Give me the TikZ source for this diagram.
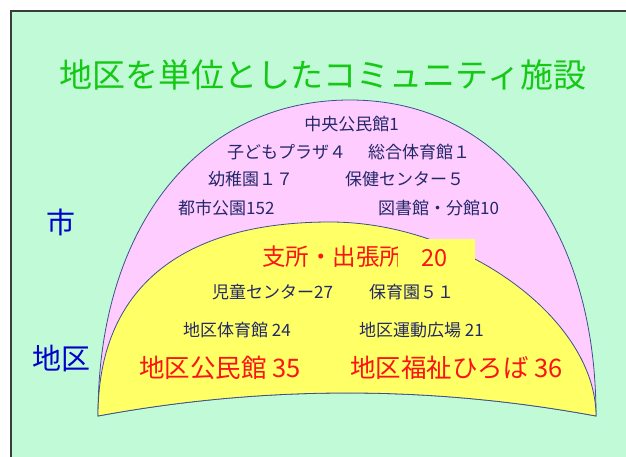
\documentclass[tikz,border=0pt]{standalone}
\usepackage{fontspec}
\setmainfont{Noto Sans CJK JP}
\definecolor{bggreen}{RGB}{192,250,215}
\definecolor{framegray}{RGB}{60,60,60}
\definecolor{pinkfill}{RGB}{255,204,255}
\definecolor{yellowfill}{RGB}{255,255,102}
\definecolor{edgeblue}{RGB}{60,80,140}
\definecolor{navytext}{RGB}{35,40,105}
\definecolor{redtext}{RGB}{250,20,20}
\definecolor{titlegreen}{RGB}{20,200,20}
\definecolor{labelblue}{RGB}{0,0,200}
\begin{document}
\begin{tikzpicture}[x=1pt,y=-1pt,
  navy/.style={inner sep=0pt, anchor=west, text=navytext, font=\fontsize{17}{17}\selectfont},
  redbig/.style={inner sep=0pt, anchor=west, text=redtext, font=\fontsize{25.5}{25.5}\selectfont},
  redmid/.style={inner sep=0pt, anchor=west, text=redtext, font=\fontsize{23.5}{23.5}\selectfont},
  side/.style={inner sep=0pt, text=labelblue, font=\fontsize{29}{29}\selectfont},
  shapeedge/.style={draw=edgeblue, line width=0.8pt}]
\useasboundingbox (0,0) rectangle (626,456);
\fill[white] (0,0) rectangle (626,456);
\path[fill=bggreen, draw=framegray, line width=2pt] (11,11) rectangle (650,480);
% outer (city) dome
\path[fill=pinkfill, shapeedge] (98,416)
  .. controls (98,226) and (199,100) .. (350,100)
  .. controls (498,100) and (596,226) .. (596,416)
  .. controls (430,385.3) and (264,385.3) .. (98,416) -- cycle;
% inner (district) dome
\path[fill=yellowfill, shapeedge] (98,416)
  .. controls (98,290) and (179,222) .. (330,222)
  .. controls (463,222) and (596,319) .. (596,416)
  .. controls (430,385.3) and (264,385.3) .. (98,416) -- cycle;
% title
\node[inner sep=0pt, text=titlegreen, font=\fontsize{33}{33}\selectfont] (title) at (323,75) {地区を単位としたコミュニティ施設};
% side labels
\node[side] (shi) at (61,222) {市};
\node[side, anchor=west] (chiku) at (32,358) {地区};
% city facilities
\node[navy, anchor=center] (c1) at (351.5,124) {中央公民館1};
\node[navy] (c2) at (227,152) {子どもプラザ４};
\node[navy] (c3) at (368,152) {総合体育館１};
\node[navy] (c4) at (208,179) {幼稚園１７};
\node[navy] (c5) at (345,179) {保健センター５};
\node[navy] (c6) at (178,208) {都市公園152};
\node[navy] (c7) at (378,208) {図書館・分館10};
% district facilities
\node[redmid] (d1) at (262,257) {支所・出張所};
\fill[yellowfill] (398,239) rectangle (475,268);
\node[redmid] (d2) at (421,258) {20};
\node[navy] (d3) at (212,292) {児童センター27};
\node[navy] (d4) at (369,292) {保育園５１};
\node[navy] (d5) at (183,330) {地区体育館 24};
\node[navy] (d6) at (359,330) {地区運動広場 21};
\node[redbig] (d7) at (139,368) {地区公民館 35};
\node[redbig] (d8) at (350,368) {地区福祉ひろば 36};
\end{tikzpicture}
\end{document}
